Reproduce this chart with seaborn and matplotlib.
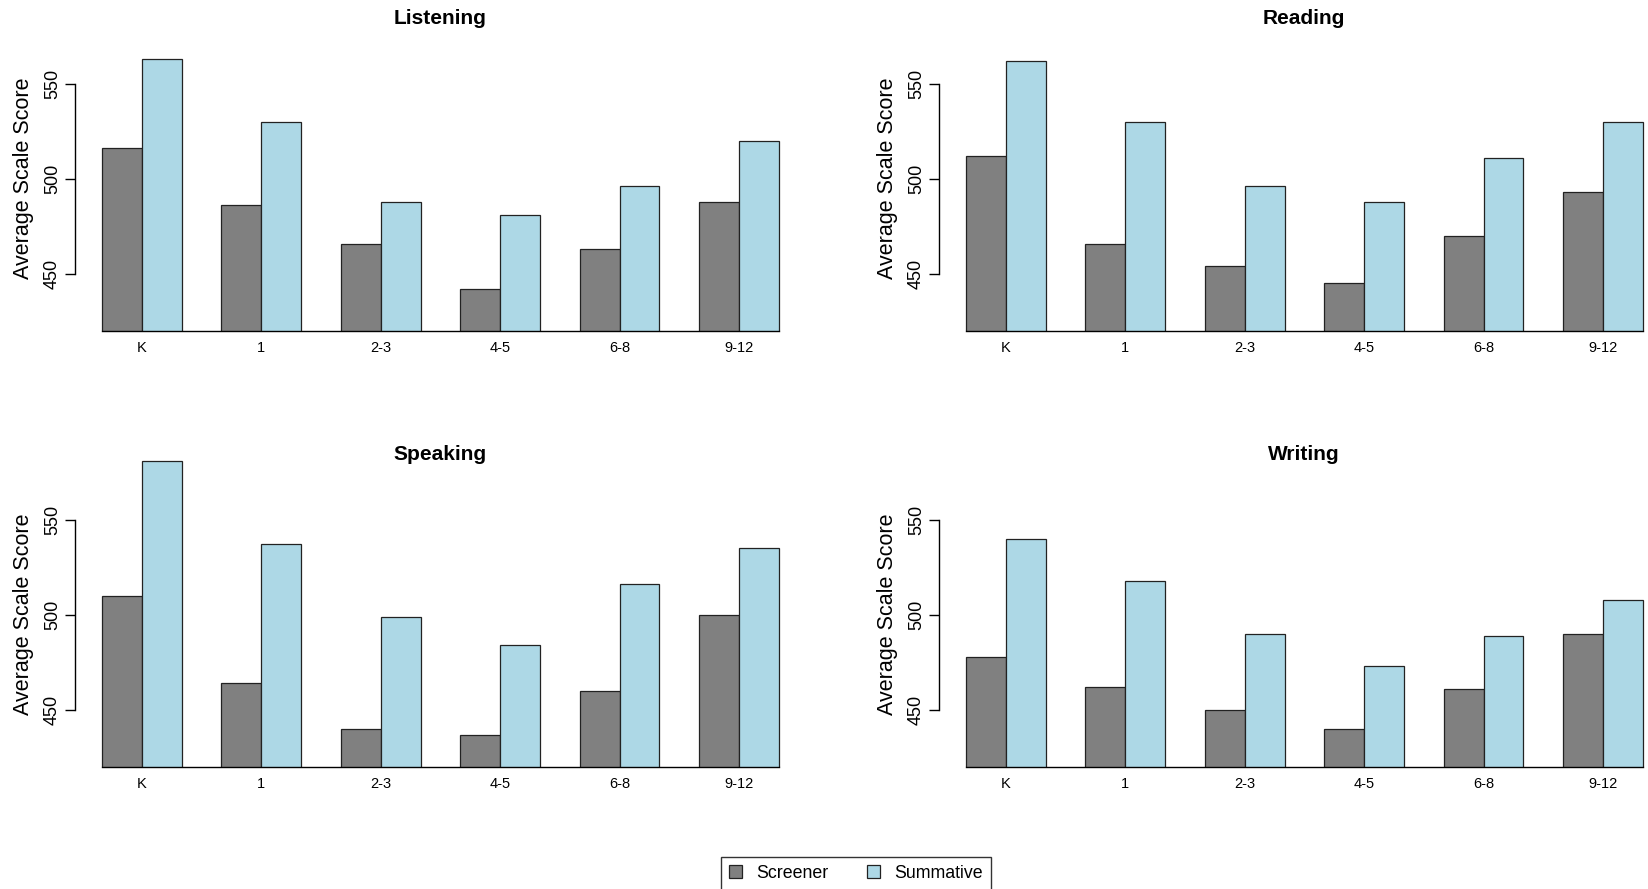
import seaborn as sns
import matplotlib.pyplot as plt
import pandas as pd
from matplotlib.patches import Patch

# Data
grades = ["K", "1", "2-3", "4-5", "6-8", "9-12"]
tests = ["Screener", "Summative"]

listening_screener = [516, 486, 466, 442, 463, 488]
listening_summative = [563, 530, 488, 481, 496, 520]
reading_screener = [512, 466, 454, 445, 470, 493]
reading_summative = [562, 530, 496, 488, 511, 530]
speaking_screener = [510, 464, 440, 437, 460, 500]
speaking_summative = [581, 537, 499, 484, 516, 535]
writing_screener = [478, 462, 450, 440, 461, 490]
writing_summative = [540, 518, 490, 473, 489, 508]

colors = {"Screener": "#808080", "Summative": "#ADD8E6"}

sns.set_style("white")
plt.rcParams["font.family"] = ["Liberation Sans", "DejaVu Sans"]
plt.rcParams["text.color"] = "black"
plt.rcParams["xtick.color"] = "black"
plt.rcParams["ytick.color"] = "black"

W, H = 1648, 889
fig = plt.figure(figsize=(W / 100, H / 100), dpi=100)

# panel: (title, screener, summative, left px, baseline px)
panels = [
    ("Listening", listening_screener, listening_summative, 75, 331),
    ("Reading", reading_screener, reading_summative, 939, 331),
    ("Speaking", speaking_screener, speaking_summative, 75, 767),
    ("Writing", writing_screener, writing_summative, 939, 767),
]

ymin, ymax = 420, 590
px_per_unit = 1.902
ax_w = 707

for title, scr, summ, left, base in panels:
    df = pd.DataFrame({
        "grade": grades * 2,
        "test": ["Screener"] * 6 + ["Summative"] * 6,
        "score": scr + summ,
    })
    ax_h = (ymax - ymin) * px_per_unit
    ax = fig.add_axes([left / W, (H - base) / H, ax_w / W, ax_h / H])
    sns.barplot(data=df, x="grade", y="score", hue="test", order=grades,
                hue_order=tests, palette=colors, width=2 / 3,
                edgecolor="#222222", linewidth=0.9, saturation=1,
                legend=False, ax=ax)
    ax.set_ylim(ymin, ymax)
    ax.set_xlim(-0.56, 5.36)
    ax.set_yticks([450, 500, 550])
    ax.set_yticklabels(["450", "500", "550"], rotation=90, va="center")
    ax.set_xlabel("")
    ax.set_ylabel("")
    for s in ["top", "right"]:
        ax.spines[s].set_visible(False)
    ax.spines["left"].set_bounds(450, 550)
    ax.spines["bottom"].set_bounds(-1 / 3, 5 + 1 / 3)
    for s in ["left", "bottom"]:
        ax.spines[s].set_color("black")
        ax.spines[s].set_linewidth(1.0)
    ax.tick_params(axis="y", direction="out", length=7, width=1,
                   color="black", labelsize=13, pad=3, left=True)
    ax.tick_params(axis="x", length=0, labelsize=10.5, pad=7)

    # title and y label
    title_y = 18 if base < 400 else 455
    fig.text((left + 365) / W, 1 - title_y / H, title, ha="center",
             va="center", fontsize=15, fontweight="bold")
    fig.text((left - 51) / W, 1 - (base - 153) / H, "Average Scale Score",
             rotation=90, ha="center", va="center", fontsize=15.5)

handles = [Patch(facecolor=colors[t], edgecolor="#222222", linewidth=0.9)
           for t in tests]
leg = fig.legend(handles, tests, loc="center", ncol=2,
                 bbox_to_anchor=(856 / W, 1 - 873 / H), fontsize=12.8,
                 frameon=True, fancybox=False, edgecolor="black",
                 handlelength=0.7, handleheight=0.7, columnspacing=2.2,
                 handletextpad=0.8, borderpad=0.45)
leg.get_frame().set_linewidth(1.0)

plt.savefig("out.png", dpi=100)
